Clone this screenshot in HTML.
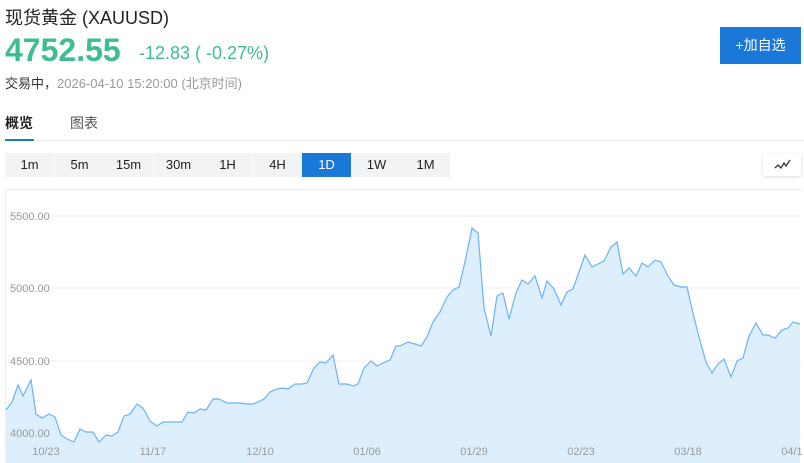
<!DOCTYPE html>
<html><head><meta charset="utf-8"><style>
*{margin:0;padding:0;box-sizing:border-box}
body{width:804px;height:463px;overflow:hidden;background:#fff;font-family:"Liberation Sans","Noto Sans CJK SC",sans-serif;position:relative;color:#222}
.a{position:absolute;white-space:nowrap}
.tb{position:absolute;top:153px;height:24px;width:49px;background:#f2f3f5;font-size:13px;text-align:center;line-height:24px;color:#222}
</style></head><body>
<div class="a" style="left:5px;top:4px;font-size:18px;color:#222">现货黄金 (XAUUSD)</div>
<div class="a" style="left:5px;top:32px;font-size:32px;font-weight:bold;color:#3dbd92">4752.55</div>
<div class="a" style="left:139px;top:43px;font-size:18px;color:#3dbd92">-12.83 ( -0.27%)</div>
<div class="a" style="left:5px;top:73px;font-size:13px;color:#999"><span style="color:#333">交易中，</span>2026-04-10 15:20:00 (北京时间)</div>
<div class="a" style="left:720px;top:27px;width:81px;height:37px;background:#1a78d8;color:#fff;font-size:14px;text-align:center;line-height:37px">+加自选</div>
<div class="a" style="left:5px;top:113px;font-size:14px;font-weight:bold;color:#222">概览</div>
<div class="a" style="left:70px;top:113px;font-size:14px;color:#555">图表</div>
<div class="a" style="left:0;top:140px;width:804px;height:1px;background:#eceef1"></div>
<div class="a" style="left:5px;top:139px;width:29px;height:2px;background:#1a78d8"></div>
<div class="tb" style="left:5px">1m</div><div class="tb" style="left:55px">5m</div><div class="tb" style="left:104px">15m</div><div class="tb" style="left:154px">30m</div><div class="tb" style="left:203px">1H</div><div class="tb" style="left:253px">4H</div><div class="tb" style="left:302px;background:#1a78d8;color:#fff">1D</div><div class="tb" style="left:352px">1W</div><div class="tb" style="left:401px">1M</div>
<div class="a" style="left:763px;top:153px;width:38px;height:23px;background:#fff;box-shadow:0 1px 3px rgba(0,0,0,.15);border-radius:2px">
<svg width="38" height="23"><polyline points="12,15 15,12 18,15 21,10 23,13 27,7" fill="none" stroke="#333" stroke-width="1.3"/></svg></div>
<svg class="a" style="left:0;top:0" width="804" height="463">
<rect x="5.5" y="189.5" width="797" height="280" fill="none" stroke="#eceef1"/>
<g stroke="#efefef" stroke-width="1"><line x1="5" y1="216" x2="802" y2="216"/><line x1="5" y1="288" x2="802" y2="288"/><line x1="5" y1="361" x2="802" y2="361"/><line x1="5" y1="433" x2="802" y2="433"/></g>
<polygon fill="#ddeefd" points="6,463 6,410 12,402 18,385 23,396 31,380 36,414 42,418 49,414 55,417 61,435 67,439 74,442 80,429 86,432 93,432 99,442 106,435 112,436 118,432 124,416 130,414 137,404 143,408 150,421 157,426 163,422 169,422 176,422 182,422 188,412 194,413 200,409 206,410 213,399 219,399 227,403 233,403 240,403 247,404 253,404 258,402 264,399 270,392 277,389 283,388 288,389 295,384 302,384 307,383 314,368 320,362 326,363 333,355 339,384 347,384 353,386 358,384 364,368 371,361 377,366 383,363 390,360 396,346 400,346 408,342 415,344 421,346 427,337 433,322 440,312 447,297 453,290 459,287 465,262 472,228 478,233 484,308 491,336 497,296 503,293 509,319 516,293 522,280 528,284 535,276 542,298 547,281 554,289 561,305 567,292 573,289 579,272 585,255 592,267 598,264 604,261 611,247 617,242 623,274 629,268 636,276 642,263 648,267 655,260 661,262 668,276 674,285 681,287 687,287 693,313 699,337 706,362 712,373 718,364 724,359 731,377 737,361 743,358 749,336 756,323 763,335 768,335 775,338 782,330 788,328 793,322 800,324 800,463"/>
<polyline fill="none" stroke="#6cb2f3" stroke-width="1.2" points="6,410 12,402 18,385 23,396 31,380 36,414 42,418 49,414 55,417 61,435 67,439 74,442 80,429 86,432 93,432 99,442 106,435 112,436 118,432 124,416 130,414 137,404 143,408 150,421 157,426 163,422 169,422 176,422 182,422 188,412 194,413 200,409 206,410 213,399 219,399 227,403 233,403 240,403 247,404 253,404 258,402 264,399 270,392 277,389 283,388 288,389 295,384 302,384 307,383 314,368 320,362 326,363 333,355 339,384 347,384 353,386 358,384 364,368 371,361 377,366 383,363 390,360 396,346 400,346 408,342 415,344 421,346 427,337 433,322 440,312 447,297 453,290 459,287 465,262 472,228 478,233 484,308 491,336 497,296 503,293 509,319 516,293 522,280 528,284 535,276 542,298 547,281 554,289 561,305 567,292 573,289 579,272 585,255 592,267 598,264 604,261 611,247 617,242 623,274 629,268 636,276 642,263 648,267 655,260 661,262 668,276 674,285 681,287 687,287 693,313 699,337 706,362 712,373 718,364 724,359 731,377 737,361 743,358 749,336 756,323 763,335 768,335 775,338 782,330 788,328 793,322 800,324"/>
<g font-size="11" fill="#999" font-family="Liberation Sans,sans-serif"><text x="10" y="220">5500.00</text><text x="10" y="292">5000.00</text><text x="10" y="365">4500.00</text><text x="10" y="437">4000.00</text></g>
<g font-size="11" fill="#999" font-family="Liberation Sans,sans-serif" text-anchor="middle"><text x="46" y="455">10/23</text><text x="153" y="455">11/17</text><text x="260" y="455">12/10</text><text x="367" y="455">01/06</text><text x="474" y="455">01/29</text><text x="581" y="455">02/23</text><text x="688" y="455">03/18</text><text x="795" y="455">04/10</text></g>
<rect x="802" y="189" width="2" height="274" fill="#fff"/>
</svg>
</body></html>
